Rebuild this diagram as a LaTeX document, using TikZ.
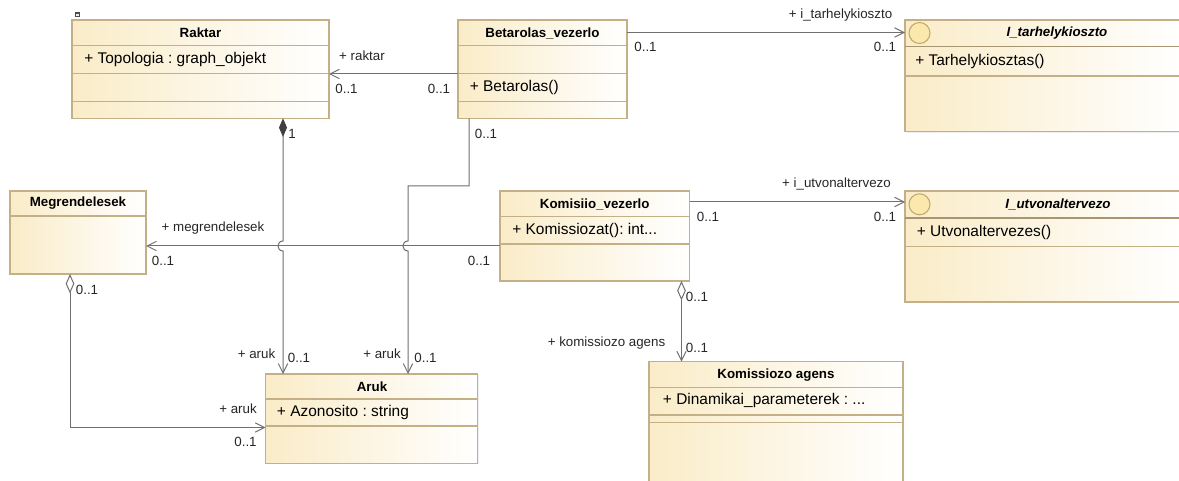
\documentclass[tikz,border=0pt]{standalone}
\usepackage{fontspec}
\setmainfont{Liberation Sans}
\usetikzlibrary{arrows.meta,shadows}
\definecolor{clsfill}{RGB}{250,236,200}
\definecolor{clsborder}{RGB}{196,176,134}
\definecolor{conn}{RGB}{112,112,112}
\definecolor{ifcirc}{RGB}{250,232,172}
\definecolor{ifcircb}{RGB}{196,168,104}
\frenchspacing
\begin{document}
\begin{tikzpicture}[x=0.75pt,y=-0.75pt,
  cls/.style={draw=clsborder, line width=0.8pt, left color=clsfill, right color=white,
    inner sep=0pt, outer sep=0pt, anchor=north west, rectangle,
    drop shadow={shadow xshift=0.7pt, shadow yshift=-0.7pt, opacity=0.12}},
  sep/.style={draw=clsborder, line width=0.8pt},
  isep/.style={draw=clsborder!85!black, line width=1.2pt},
  hdr/.style={font=\fontsize{10}{12}\selectfont\bfseries, inner sep=0pt},
  ihdr/.style={font=\fontsize{10}{12}\selectfont\bfseries\itshape, inner sep=0pt},
  attr/.style={font=\fontsize{11.6}{13}\selectfont, anchor=west, inner sep=0pt},
  lbl/.style={font=\fontsize{10}{12}\selectfont, inner sep=0pt, text=black!85},
  icon/.style={circle, draw=ifcircb, fill=ifcirc, line width=0.8pt, minimum size={21*0.75pt}, inner sep=0pt},
  assoc/.style={draw=conn, line width=0.75pt, -{Straight Barb[length=7pt,width=7pt]}},
  comp/.style={draw=conn, line width=0.75pt, {Diamond[length=14pt,width=6pt,color=black!75,fill=black!75]}-{Straight Barb[length=7pt,width=7pt]}},
  aggr/.style={draw=conn, line width=0.75pt, {Diamond[length=14.5pt,width=6.5pt,fill=white]}-{Straight Barb[length=7pt,width=7pt]}}
]
\clip (0,0) rectangle (1179,481);
\fill[white] (0,0) rectangle (1179,481);

% ---------- classes ----------
\node[cls, minimum width={257*0.75pt}, minimum height={98.3*0.75pt}] (raktar) at (72,20) {};
\node[cls, minimum width={169*0.75pt}, minimum height={98.3*0.75pt}] (bet) at (458,20) {};
\node[cls, minimum width={278*0.75pt}, minimum height={111.7*0.75pt}] (itar) at (905,20) {};
\node[cls, minimum width={136*0.75pt}, minimum height={83*0.75pt}] (meg) at (10,191) {};
\node[cls, minimum width={189.5*0.75pt}, minimum height={90*0.75pt}] (kom) at (500,191) {};
\node[cls, minimum width={278*0.75pt}, minimum height={111*0.75pt}] (iutv) at (905,191) {};
\node[cls, minimum width={212*0.75pt}, minimum height={89.3*0.75pt}] (aruk) at (265.7,374) {};
\node[cls, minimum width={254*0.75pt}, minimum height={135*0.75pt}] (ka) at (649,361.7) {};

% compartments
\draw[sep] (raktar.west |- 0,45.7) -- (raktar.east |- 0,45.7);
\draw[sep] (raktar.west |- 0,73.3) -- (raktar.east |- 0,73.3);
\draw[sep] (raktar.west |- 0,101.7) -- (raktar.east |- 0,101.7);
\draw[sep] (bet.west |- 0,45.7) -- (bet.east |- 0,45.7);
\draw[sep] (bet.west |- 0,73.3) -- (bet.east |- 0,73.3);
\draw[sep] (bet.west |- 0,101.7) -- (bet.east |- 0,101.7);
\draw[isep] (itar.west |- 0,46.7) -- (itar.east |- 0,46.7);
\draw[sep] (itar.west |- 0,76) -- (itar.east |- 0,76);
\draw[sep] (meg.west |- 0,216) -- (meg.east |- 0,216);
\draw[sep] (kom.west |- 0,216.7) -- (kom.east |- 0,216.7);
\draw[sep] (kom.west |- 0,244) -- (kom.east |- 0,244);
\draw[isep] (iutv.west |- 0,218) -- (iutv.east |- 0,218);
\draw[sep] (iutv.west |- 0,246.7) -- (iutv.east |- 0,246.7);
\draw[sep] (aruk.west |- 0,399) -- (aruk.east |- 0,399);
\draw[sep] (aruk.west |- 0,426) -- (aruk.east |- 0,426);
\draw[sep] (ka.west |- 0,387.7) -- (ka.east |- 0,387.7);
\draw[sep] (ka.west |- 0,415) -- (ka.east |- 0,415);
\draw[sep] (ka.west |- 0,422.3) -- (ka.east |- 0,422.3);

% small icon on Raktar
\fill[black!70] (74.5,12.3) rectangle (79.5,17);
\fill[white!85!gray] (76.3,14.3) rectangle (78.5,16.5);

% interface icons
\node[icon] (itar-ic) at (919.5,33) {};
\node[icon] (iutv-ic) at (919.5,204.3) {};

% headers
\node[hdr] (raktar-h) at (200.5,33) {Raktar};
\node[hdr] (bet-h) at (542.5,33) {Betarolas\_vezerlo};
\node[ihdr] (itar-h) at (1057,33.5) {I\_tarhelykioszto};
\node[hdr] (meg-h) at (78,203.5) {Megrendelesek};
\node[hdr] (kom-h) at (594.75,204) {Komisiio\_vezerlo};
\node[ihdr] (iutv-h) at (1058,204.5) {I\_utvonaltervezo};
\node[hdr] (aruk-h) at (372,386.5) {Aruk};
\node[hdr] (ka-h) at (776,374.7) {Komissiozo agens};

% attributes / operations
\node[attr] (raktar-a) at (84,59.5) {+ Topologia : graph\_objekt};
\node[attr] (bet-o) at (469.5,87.8) {+ Betarolas()};
\node[attr] (itar-o) at (915,61.3) {+ Tarhelykiosztas()};
\node[attr] (kom-o) at (512,230.5) {+ Komissiozat(): int...};
\node[attr] (iutv-o) at (916.5,232.5) {+ Utvonaltervezes()};
\node[attr] (aruk-a) at (276.7,412.7) {+ Azonosito : string};
\node[attr] (ka-a) at (662.7,401) {+ Dinamikai\_parameterek : ...};

% ---------- connectors ----------
\draw[assoc] (bet.west |- 0,74) -- (raktar.east |- 0,74);
\draw[assoc] (bet.east |- 0,32.5) -- (itar.west |- 0,32.5);
\draw[assoc] (kom.west |- 0,246) -- (meg.east |- 0,246);
\draw[assoc] (kom.east |- 0,202) -- (iutv.west |- 0,202);
\draw[comp] (raktar.south -| 283,0) -- (283,241) .. controls (276.3,241) and (276.3,251) .. (283,251) -- (aruk.north -| 283,0);
\draw[assoc] (bet.south -| 469,0) -- (469,186) -- (408,186) -- (408,241) .. controls (401.3,241) and (401.3,251) .. (408,251) -- (aruk.north -| 408,0);
\draw[aggr] (meg.south -| 70,0) -- (70,427.5) -- (aruk.west |- 0,427.5);
\draw[aggr] (kom.south -| 681.5,0) -- (ka.north -| 681.5,0);

% ---------- labels ----------
\node[lbl] (l-raktar) at (362,56) {+ raktar};
\node[lbl] (m-raktar1) at (346.5,88.5) {0..1};
\node[lbl] (m-raktar2) at (439,88.5) {0..1};
\node[lbl] (m-comp) at (292,134) {1};
\node[lbl] (m-betdown) at (486,134) {0..1};
\node[lbl] (l-itar) at (840.5,15.5) {+ i\_tarhelykioszto};
\node[lbl] (m-itar1) at (645.5,47) {0..1};
\node[lbl] (m-itar2) at (885,47) {0..1};
\node[lbl] (l-meg) at (213,228) {+ megrendelesek};
\node[lbl] (m-meg1) at (163,260.5) {0..1};
\node[lbl] (m-meg2) at (479,260.5) {0..1};
\node[lbl] (m-megagg) at (87,289.5) {0..1};
\node[lbl] (l-iutv) at (836.5,183.5) {+ i\_utvonaltervezo};
\node[lbl] (m-iutv1) at (708,216.5) {0..1};
\node[lbl] (m-iutv2) at (885,216.5) {0..1};
\node[lbl] (m-komagg) at (697,297) {0..1};
\node[lbl] (l-ka) at (606.5,343) {+ komissiozo agens};
\node[lbl] (m-ka) at (697,347.5) {0..1};
\node[lbl] (l-aruk1) at (256.5,354) {+ aruk};
\node[lbl] (m-aruk1) at (299,358) {0..1};
\node[lbl] (l-aruk2) at (382,354) {+ aruk};
\node[lbl] (m-aruk2) at (425.5,358) {0..1};
\node[lbl] (l-aruk3) at (238,408.5) {+ aruk};
\node[lbl] (m-aruk3) at (245.5,441.5) {0..1};
\end{tikzpicture}
\end{document}
